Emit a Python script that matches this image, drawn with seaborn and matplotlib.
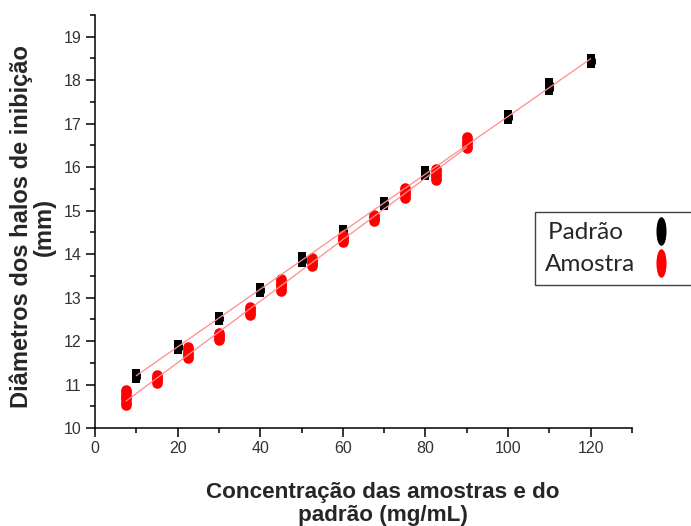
import matplotlib
matplotlib.use("Agg")
import matplotlib.pyplot as plt
import numpy as np
import pandas as pd
import seaborn as sns
from matplotlib.path import Path
from matplotlib.lines import Line2D
from matplotlib.ticker import MultipleLocator

# Inhibition halo diameters (mm), triplicate readings per concentration
conc_padrao = [10, 20, 30, 40, 50, 60, 70, 80, 90, 100, 110, 120]
padrao_r1 = [11.27, 11.94, 12.58, 13.25, 13.96, 14.57, 15.22, 15.94, 16.60, 17.23, 17.95, 18.51]
padrao_r2 = [11.20, 11.87, 12.52, 13.18, 13.88, 14.51, 15.16, 15.87, 16.54, 17.16, 17.85, 18.45]
padrao_r3 = [11.13, 11.79, 12.45, 13.11, 13.80, 14.45, 15.10, 15.79, 16.48, 17.09, 17.76, 18.38]

conc_amostra = [7.5, 15, 22.5, 30, 37.5, 45, 52.5, 60, 67.5, 75, 82.5, 90]
amostra_r1 = [10.87, 11.22, 11.86, 12.19, 12.78, 13.43, 13.91, 14.45, 14.90, 15.51, 15.96, 16.70]
amostra_r2 = [10.70, 11.12, 11.73, 12.11, 12.68, 13.29, 13.81, 14.36, 14.83, 15.40, 15.83, 16.58]
amostra_r3 = [10.53, 11.03, 11.60, 12.03, 12.59, 13.15, 13.72, 14.27, 14.75, 15.28, 15.70, 16.45]

series_names = ["Padrão", "Amostra"]
x_ticks = [0, 20, 40, 60, 80, 100, 120]
y_ticks = [10, 11, 12, 13, 14, 15, 16, 17, 18, 19]


def long_frame(conc, reps, name):
    rows = []
    for rep in reps:
        for c, v in zip(conc, rep):
            rows.append({"conc": c, "halo": v, "serie": name})
    return pd.DataFrame(rows)


df_p = long_frame(conc_padrao, [padrao_r1, padrao_r2, padrao_r3], series_names[0])
df_a = long_frame(conc_amostra, [amostra_r1, amostra_r2, amostra_r3], series_names[1])

sns.set_style("ticks")
plt.rcParams["font.family"] = ["Liberation Sans", "DejaVu Sans"]

fig = plt.figure(figsize=(6.91, 5.26), dpi=100)
ax = fig.add_axes([0.1375, 0.1863, 0.7771, 0.7852])

# replicate spread: a bar joining the lowest and highest reading at each level
sq_pt, dot_pt = 6.4, 7.6
for df, size, col, z in ((df_p, sq_pt, "black", 2), (df_a, dot_pt, "#ff0000", 3)):
    rng = df.groupby("conc")["halo"].agg(["min", "max"])
    ax.vlines(rng.index, rng["min"], rng["max"], colors=col, lw=size,
              capstyle="butt", zorder=z)

# replicate points
sns.scatterplot(data=df_p, x="conc", y="halo", marker="s", color="black",
                s=sq_pt ** 2, linewidth=0, ax=ax, zorder=2, legend=False)
sns.scatterplot(data=df_a, x="conc", y="halo", marker="o", color="#ff0000",
                s=dot_pt ** 2, linewidth=0, ax=ax, zorder=3, legend=False)

# linear fits
line_style = dict(color="#ff8c8c", lw=0.9, zorder=4)
sns.regplot(data=df_p, x="conc", y="halo", scatter=False, ci=None, ax=ax, line_kws=line_style)
sns.regplot(data=df_a, x="conc", y="halo", scatter=False, ci=None, ax=ax, line_kws=line_style)

ax.set_xlim(0, 130)
ax.set_ylim(10, 19.5)
ax.set_xticks(x_ticks)
ax.set_yticks(y_ticks)
ax.xaxis.set_minor_locator(MultipleLocator(10))
ax.yaxis.set_minor_locator(MultipleLocator(0.5))
sns.despine(ax=ax)
for sp in ("left", "bottom"):
    ax.spines[sp].set_linewidth(1.1)
    ax.spines[sp].set_color("black")
ax.tick_params(which="major", direction="out", length=6.5, width=1.1,
               color="black", labelsize=11.5, labelcolor="#333333", pad=3)
ax.tick_params(which="minor", direction="out", length=3.6, width=1.1, color="black")

ax.set_xlabel("Concentração das amostras e do\npadrão (mg/mL)",
              fontsize=16.2, fontweight="bold", linespacing=1.15)
ax.set_ylabel("Diâmetros dos halos de inibição\n(mm)",
              fontsize=17, fontweight="bold", linespacing=1.0)
ax.xaxis.set_label_coords(0.536, -0.13)
ax.yaxis.set_label_coords(-0.073, 0.487)

# legend with tall oval keys placed after the labels
circ = Path.unit_circle()
oval = Path(circ.vertices * np.array([0.32, 1.0]), circ.codes)
handles = [
    Line2D([], [], ls="none", marker=oval, ms=19.5, mfc="black", mec="black"),
    Line2D([], [], ls="none", marker=oval, ms=19.5, mfc="#ff0000", mec="#ff0000"),
]
leg = ax.legend(handles, [series_names[0] + "  ", series_names[1]],
                loc="upper left", bbox_to_anchor=(0.774, 0.597),
                bbox_transform=fig.transFigure, markerfirst=False,
                frameon=True, fancybox=False, edgecolor="#404040", framealpha=1,
                borderaxespad=0, borderpad=0.42, labelspacing=0.45,
                handlelength=2.4, handletextpad=-0.15,
                prop={"family": ["Lato", "DejaVu Sans"], "size": 17.5})
leg.get_frame().set_linewidth(1.0)

fig.savefig("out.png", dpi=100)
